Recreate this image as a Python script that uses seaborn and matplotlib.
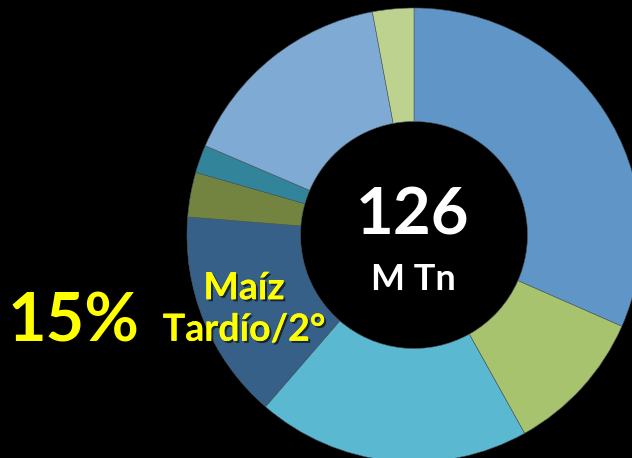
import numpy as np
import pandas as pd
import matplotlib.pyplot as plt
import matplotlib.patheffects as pe
import seaborn as sns

segments = ['s1', 's2', 's3', 'Maíz Tardío/2°', 's5', 's6', 's7', 's8']
values = [39.8, 13.0, 24.5, 18.8, 4.0, 2.5, 19.7, 3.7]
seg_colors = ['#5F95C7', '#A8C36D', '#5AB8D1', '#376088',
              '#728440', '#31849A', '#7FAAD3', '#BDD28F']
total_label = '126'
unit_label = 'M Tn'
hl_pct = '15%'
hl_name = 'Maíz\nTardío/2°'

df = pd.DataFrame({'segment': segments, 'value': values})

sns.set_theme(style='dark', rc={'figure.facecolor': 'black', 'axes.facecolor': 'black'})
plt.rcParams['font.family'] = ['Lato', 'DejaVu Sans']
pal = sns.color_palette(seg_colors)

fig = plt.figure(figsize=(6.32, 4.58), dpi=100)
ax = fig.add_axes([0, 0, 1, 1])
ax.set_facecolor('black')

W, H = 632, 458
cx, cy, R = 414, H - 235, 227
ax.pie(df['value'], colors=pal, startangle=90, counterclock=False,
       radius=R, center=(cx, cy),
       wedgeprops=dict(width=R * 0.5, edgecolor='#4a5a60', linewidth=0.4))
ax.set_xlim(0, W)
ax.set_ylim(0, H)
ax.set_aspect('equal')
ax.axis('off')

ax.text(cx - 1, H - 216, total_label, color='white', fontsize=47, fontweight='bold',
        ha='center', va='center')
ax.text(cx - 1, H - 280, unit_label, color='white', fontsize=26, fontweight='bold',
        ha='center', va='center')

shadow = [pe.withSimplePatchShadow(offset=(1.5, -1.5), shadow_rgbFace='black', alpha=0.6),
          pe.Normal()]
ax.text(74, H - 323, hl_pct, color='#FFFF00', fontsize=48, fontweight='bold',
        ha='center', va='center')
ax.text(244, H - 309, hl_name, color='#FFFF00', fontsize=27, fontweight='bold',
        ha='center', va='center', linespacing=1.27, path_effects=shadow)

fig.savefig('out.png', dpi=100, facecolor='black')
